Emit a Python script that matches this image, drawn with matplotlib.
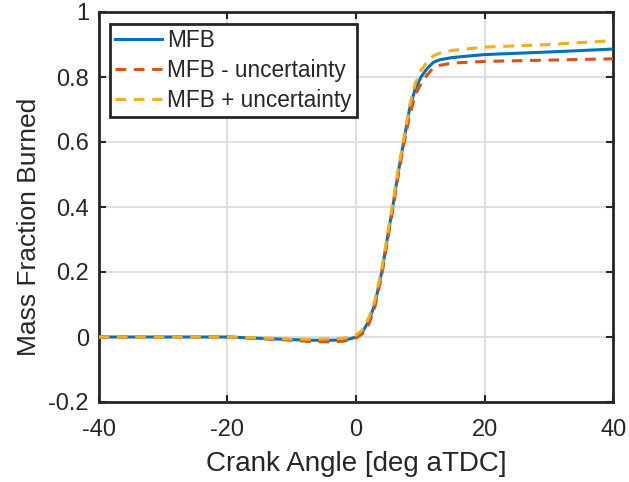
import matplotlib
matplotlib.use("Agg")
import matplotlib.pyplot as plt

# crank angle [deg aTDC] and mass fraction burned
crank = [-40, -30, -20, -15, -10, -7, -4, -2, -1, 0, 1, 2, 2.9, 4, 5, 5.7, 6.5,
         7.4, 8.3, 9.2, 10.1, 11, 12, 13, 15, 20, 30, 40]
mfb = [0.0, 0.0, 0.0, -0.004, -0.008, -0.01, -0.01, -0.009, -0.006, 0.0, 0.015,
       0.05, 0.1, 0.2, 0.32, 0.4, 0.5, 0.6, 0.7, 0.765, 0.8, 0.825, 0.845, 0.853,
       0.86, 0.869, 0.877, 0.886]
mfb_minus = [0.0, 0.0, 0.0, -0.005, -0.01, -0.014, -0.015, -0.013, -0.009, -0.003,
             0.01, 0.04, 0.09, 0.19, 0.31, 0.39, 0.49, 0.59, 0.68, 0.745, 0.78,
             0.805, 0.828, 0.836, 0.843, 0.848, 0.852, 0.856]
mfb_plus = [0.0, 0.0, 0.0, -0.003, -0.006, -0.007, -0.006, -0.004, 0.0, 0.006,
            0.022, 0.06, 0.11, 0.21, 0.33, 0.41, 0.51, 0.61, 0.71, 0.78, 0.82,
            0.845, 0.865, 0.873, 0.882, 0.892, 0.9, 0.912]

xticks = [-40, -20, 0, 20, 40]
yticks = [-0.2, 0, 0.2, 0.4, 0.6, 0.8, 1]
yticklabels = ["-0.2", "0", "0.2", "0.4", "0.6", "0.8", "1"]

plt.rcParams['font.family'] = ['Liberation Sans', 'DejaVu Sans']
plt.rcParams['axes.unicode_minus'] = False

fig = plt.figure(figsize=(6.29, 4.82), dpi=100)
ax = fig.add_axes([98.6 / 629, 80 / 482, (613.5 - 98.6) / 629, (470 - 80) / 482])

ax.plot(crank, mfb, color='#0072BD', lw=2.2, label='MFB', zorder=3)
ax.plot(crank, mfb_minus, color='#D95319', lw=2.2, ls=(0, (3.5, 2.5)),
        label='MFB - uncertainty', zorder=4)
ax.plot(crank, mfb_plus, color='#EDB120', lw=2.2, ls=(0, (3.5, 2.5)),
        label='MFB + uncertainty', zorder=5)

ax.set_xlim(-40, 40)
ax.set_ylim(-0.2, 1)
ax.set_xticks(xticks)
ax.set_yticks(yticks)
ax.set_yticklabels(yticklabels)
ax.grid(True, color='#DCDCDC', lw=1.3)
ax.set_axisbelow(True)

ax.tick_params(direction='in', length=5, width=1.5, top=True, right=True,
               labelsize=17, colors='#262626')
ax.tick_params(axis='x', pad=12.5)
ax.tick_params(axis='y', pad=7)
for s in ax.spines.values():
    s.set_linewidth(2)
    s.set_color('#262626')

ax.set_xlabel('Crank Angle [deg aTDC]', fontsize=20, color='#262626', labelpad=7)
ax.set_ylabel('Mass Fraction Burned', fontsize=19, color='#262626')
ax.yaxis.set_label_coords(-0.112, 0.45)

leg = ax.legend(loc='upper left', bbox_to_anchor=(0.022, 0.969), fontsize=16.3,
                frameon=True, fancybox=False, handlelength=2.1, handletextpad=0.22,
                borderpad=0.22, labelspacing=0.3, borderaxespad=0)
leg.get_frame().set_edgecolor('#262626')
leg.get_frame().set_linewidth(2)
leg.get_frame().set_alpha(1)
for t in leg.get_texts():
    t.set_color('#262626')

fig.savefig('out.png', dpi=100)
